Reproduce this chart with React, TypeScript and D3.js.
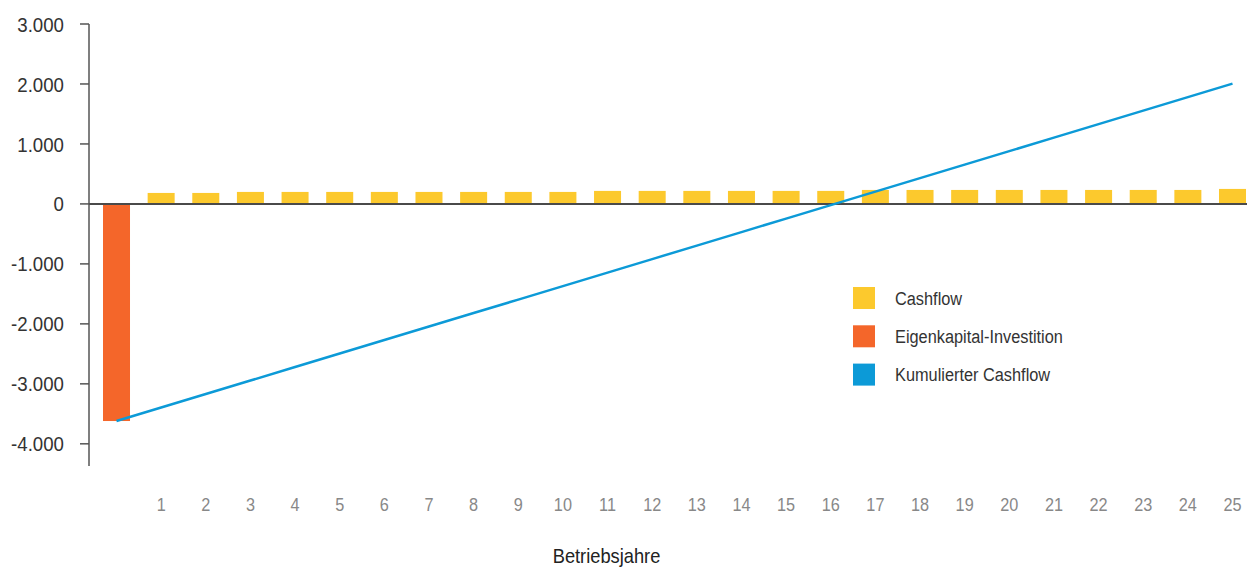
import React from "react";
import * as d3 from "d3";

// Operating years (0 = equity investment year)
const years: number[] = d3.range(0, 26);
const yearLabels: string[] = years.map((y) => (y === 0 ? "" : String(y)));

// Equity investment in year 0
const investment: number[] = [-3620];

// Annual cash flow, years 1..25
const cashflow: number[] = [
  183, 183, 200, 200, 200, 200, 200, 200, 200, 200,
  217, 217, 217, 217, 217, 217, 233, 233, 233, 233,
  233, 233, 233, 233, 250,
];

// Cumulative cash flow, years 0..25
const cumulative: number[] = [
  -3620, -3395, -3170, -2945, -2720, -2495, -2270, -2045, -1820, -1595,
  -1370, -1145, -920, -695, -470, -245, -20, 205, 430, 655,
  880, 1105, 1330, 1555, 1780, 2005,
];

const yTicks: number[] = [3000, 2000, 1000, 0, -1000, -2000, -3000, -4000];

const legendItems: { label: string; color: string }[] = [
  { label: "Cashflow", color: "#fcc92d" },
  { label: "Eigenkapital-Investition", color: "#f4662a" },
  { label: "Kumulierter Cashflow", color: "#0c9ad7" },
];

const W = 1247;
const H = 569;
const FONT = "'Liberation Sans', Arial, Helvetica, sans-serif";

const fmt = (v: number) => {
  const s = Math.abs(v).toLocaleString("de-DE");
  return v < 0 ? "-" + s : s;
};

// Text drawn in a slightly condensed face
function NarrowText(props: {
  x: number;
  y: number;
  sx: number;
  size: number;
  fill: string;
  anchor?: "start" | "middle" | "end";
  dy?: string;
  children: React.ReactNode;
}) {
  const { x, y, sx, size, fill, anchor = "start", dy, children } = props;
  return (
    <text
      transform={`translate(${x},${y}) scale(${sx},1)`}
      textAnchor={anchor}
      fontSize={size}
      fill={fill}
      dy={dy}
    >
      {children}
    </text>
  );
}

export default function App() {
  const axisX = 89;
  const step = 44.64;
  const pi = 0.395;
  const po = pi / 2;
  const r0 = 103 - step * po;
  const x = d3
    .scaleBand<number>()
    .domain(years)
    .range([r0, r0 + step * (years.length - pi + 2 * po)])
    .paddingInner(pi)
    .paddingOuter(po);
  const y = d3.scaleLinear().domain([-4370, 3000]).range([466, 24]);
  const bw = x.bandwidth();
  const cx = (i: number) => (x(i) as number) + bw / 2;

  const line = d3
    .line<number>()
    .x((_, i) => cx(i))
    .y((d) => y(d));

  return (
    <div style={{ position: "absolute", left: 0, top: 0 }}>
      <svg width={W} height={H} style={{ display: "block" }} fontFamily={FONT}>
        <rect width={W} height={H} fill="#fff" />
        {/* equity investment */}
        {investment.map((v, i) => (
          <rect
            key={"inv" + i}
            x={x(years[i]) as number}
            y={y(0)}
            width={bw}
            height={y(v) - y(0)}
            fill={legendItems[1].color}
          />
        ))}
        {/* annual cash flow */}
        {cashflow.map((v, i) => (
          <rect
            key={"cf" + i}
            x={x(years[i + 1]) as number}
            y={y(v)}
            width={bw}
            height={y(0) - y(v)}
            fill={legendItems[0].color}
          />
        ))}
        {/* zero line */}
        <line x1={axisX} x2={W} y1={y(0)} y2={y(0)} stroke="#4a4a4a" strokeWidth={2} />
        {/* y axis */}
        <line x1={axisX} x2={axisX} y1={y(3000)} y2={y(-4370)} stroke="#555" strokeWidth={1.5} />
        {yTicks.map((t) => (
          <g key={t}>
            <line x1={axisX - 9} x2={axisX} y1={y(t)} y2={y(t)} stroke="#555" strokeWidth={1.5} />
            <NarrowText x={64} y={y(t)} dy="0.36em" anchor="end" size={21} sx={0.89} fill="#333">
              {fmt(t)}
            </NarrowText>
          </g>
        ))}
        {/* cumulative cash flow */}
        <path d={line(cumulative) || ""} fill="none" stroke={legendItems[2].color} strokeWidth={2.5} />
        {/* x labels */}
        {years.map((yr, i) => (
          <NarrowText
            key={"xl" + yr}
            x={cx(i)}
            y={511}
            anchor="middle"
            size={17.5}
            sx={0.93}
            fill="#888"
          >
            {yearLabels[i]}
          </NarrowText>
        ))}
        <NarrowText x={606.5} y={563} anchor="middle" size={21} sx={0.87} fill="#222">
          Betriebsjahre
        </NarrowText>
        {/* legend */}
        {legendItems.map((it, i) => (
          <g key={it.label} transform={`translate(853, ${287 + i * 38.3})`}>
            <rect width={22} height={22} fill={it.color} />
            <NarrowText x={42} y={11} dy="0.36em" size={19} sx={0.86} fill="#333">
              {it.label}
            </NarrowText>
          </g>
        ))}
      </svg>
    </div>
  );
}
